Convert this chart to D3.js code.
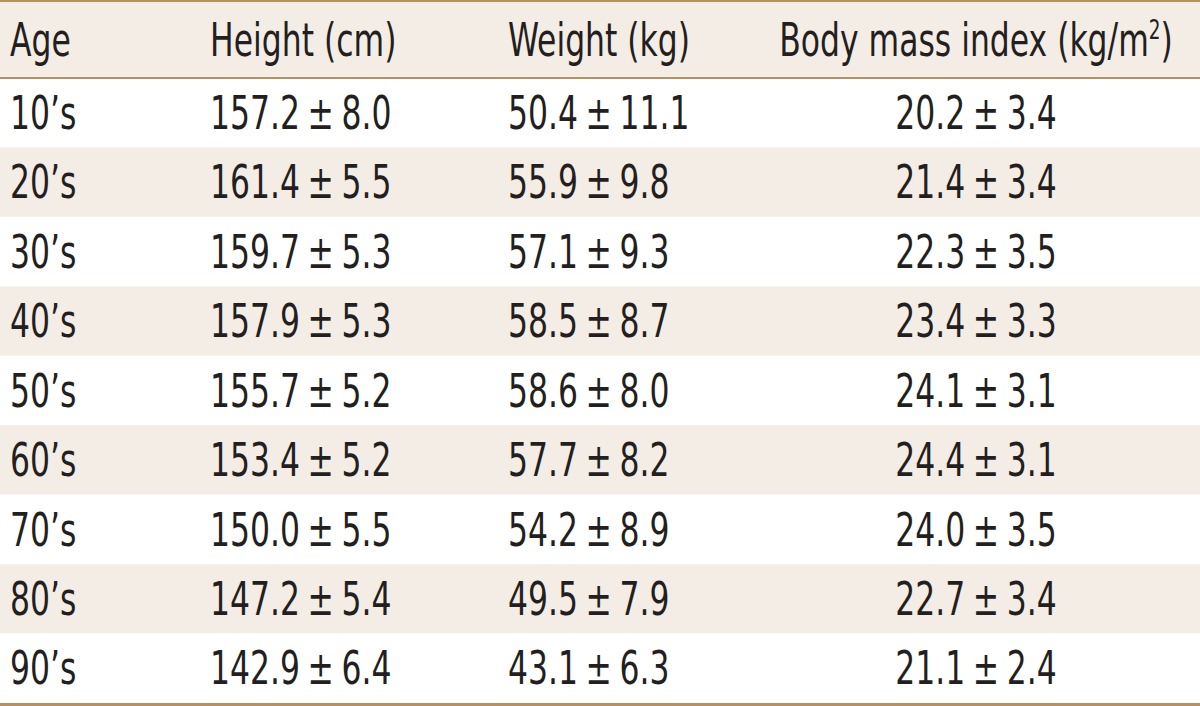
<!DOCTYPE html>
<html>
<head>
<meta charset="utf-8">
<script src="https://cdn.jsdelivr.net/npm/d3@7"></script>
<style>
  body { margin: 0; background: #fff; }
  text { font-family: "Liberation Sans Narrow", "DejaVu Sans Condensed", sans-serif; fill: #231f20; }
</style>
</head>
<body>
<div class="chart"></div>
<script>
var svgWidth = 1200;
var svgHeight = 706;

// table data
var ages = ["10’s", "20’s", "30’s", "40’s", "50’s", "60’s", "70’s", "80’s", "90’s"];
var heightMean = [157.2, 161.4, 159.7, 157.9, 155.7, 153.4, 150.0, 147.2, 142.9];
var heightSD   = [8.0, 5.5, 5.3, 5.3, 5.2, 5.2, 5.5, 5.4, 6.4];
var weightMean = [50.4, 55.9, 57.1, 58.5, 58.6, 57.7, 54.2, 49.5, 43.1];
var weightSD   = [11.1, 9.8, 9.3, 8.7, 8.0, 8.2, 8.9, 7.9, 6.3];
var bmiMean    = [20.2, 21.4, 22.3, 23.4, 24.1, 24.4, 24.0, 22.7, 21.1];
var bmiSD      = [3.4, 3.4, 3.5, 3.3, 3.1, 3.1, 3.5, 3.4, 2.4];
var headers = ["Age", "Height (cm)", "Weight (kg)", "Body mass index (kg/m"];

var lineColor = "#b8925e";
var stripe = "#f3ede5";
var fontSize = 46;
var squeeze = 0.76; // the reference uses a condensed face
var fmt = d3.format(".1f");

var rows = ages.map(function (a, i) {
  return {
    age: a,
    cells: [
      [heightMean[i], heightSD[i]],
      [weightMean[i], weightSD[i]],
      [bmiMean[i], bmiSD[i]]
    ]
  };
});

var svg = d3.select(".chart")
  .append("svg")
  .attr("width", svgWidth)
  .attr("height", svgHeight);

var headTop = 2, headBottom = 77, tableBottom = 703;

var y = d3.scaleBand()
  .domain(d3.range(ages.length))
  .range([headBottom + 1, tableBottom])
  .padding(0);

// header band
svg.append("rect")
  .attr("x", 0).attr("y", headTop)
  .attr("width", svgWidth).attr("height", headBottom - headTop)
  .attr("fill", stripe);

// striped rows
svg.selectAll("rect.row")
  .data(rows)
  .enter()
  .append("rect")
  .attr("class", "row")
  .attr("x", 0)
  .attr("y", (d, i) => y(i))
  .attr("width", svgWidth)
  .attr("height", y.bandwidth())
  .attr("fill", (d, i) => i % 2 ? stripe : "#fff");

// rules
svg.append("rect").attr("x", 0).attr("y", 0).attr("width", svgWidth).attr("height", 2).attr("fill", lineColor);
svg.append("rect").attr("x", 0).attr("y", headBottom).attr("width", svgWidth).attr("height", 2).attr("fill", lineColor);
svg.append("rect").attr("x", 0).attr("y", tableBottom).attr("width", svgWidth).attr("height", 3).attr("fill", lineColor);

// column positions
var colX = [10, 210, 508, 976];
var colAnchor = ["start", "start", "start", "middle"];

function cellText(parent, x, yy, anchor) {
  return parent.append("text")
    .attr("transform", `translate(${x}, ${yy}) scale(${squeeze}, 1)`)
    .attr("dy", "0.35em")
    .attr("text-anchor", anchor)
    .style("font-size", fontSize + "px");
}

// header text
var headerY = 40;
headers.forEach(function (h, j) {
  var t = cellText(svg, colX[j], headerY, colAnchor[j]).text(h);
  if (j === 3) {
    t.append("tspan").attr("dy", -17).style("font-size", "27px").text("2");
    t.append("tspan").attr("dy", 17).text(")");
  }
});

// body text
var rowG = svg.selectAll("g.rowText")
  .data(rows)
  .enter()
  .append("g")
  .attr("class", "rowText")
  .attr("transform", (d, i) => `translate(0, ${y(i) + y.bandwidth() / 2})`);

rowG.each(function (d) {
  var g = d3.select(this);
  cellText(g, colX[0], 0, "start").text(d.age);
  d.cells.forEach(function (c, j) {
    var t = cellText(g, colX[j + 1], 0, colAnchor[j + 1]);
    t.append("tspan").text(fmt(c[0]));
    t.append("tspan").attr("dx", 10).text("±");
    t.append("tspan").attr("dx", 10).text(fmt(c[1]));
  });
});
</script>
</body>
</html>
